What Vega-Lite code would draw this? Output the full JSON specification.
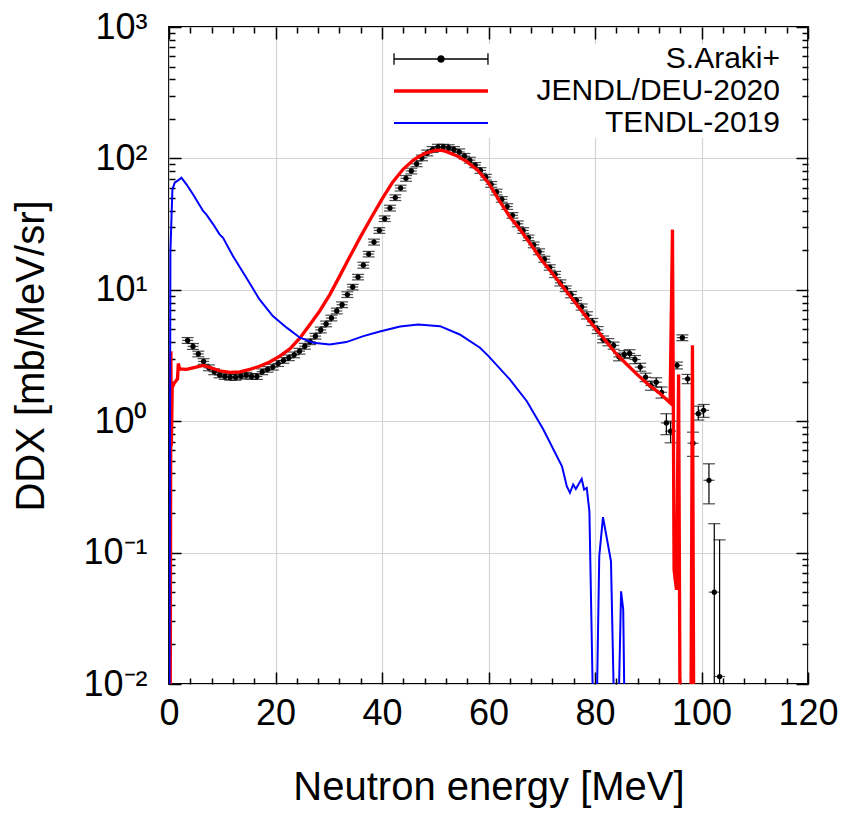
{
  "$schema": "https://vega.github.io/schema/vega-lite/v6.json",
  "width": 639,
  "height": 657,
  "autosize": {"type": "none"},
  "padding": {"left": 169, "top": 27, "right": 41, "bottom": 129},
  "background": "white",
  "config": {
    "view": {"stroke": "black", "strokeWidth": 2},
    "font": "Liberation Sans",
    "axis": {
      "labelFont": "Liberation Sans",
      "titleFont": "Liberation Sans",
      "labelFontSize": 36,
      "titleFontSize": 40,
      "titleFontWeight": "normal",
      "labelColor": "black",
      "titleColor": "black",
      "tickColor": "black",
      "tickWidth": 1.5,
      "domain": false,
      "gridColor": "#d4d4d4",
      "gridWidth": 1.2,
      "gridOpacity": 1,
      "labelFlush": false,
      "labelOverlap": false
    },
    "legend": {
      "orient": "none", "legendX": 257, "legendY": 17, "padding": 0,
      "fillColor": "white",
      "labelFont": "Liberation Sans", "labelFontSize": 30, "labelColor": "black",
      "labelAlign": "right", "labelOffset": 324, "labelLimit": 500,
      "symbolSize": 353, "rowPadding": 2, "symbolOpacity": 1
    }
  },
  "datasets": {
    "exp": [
      {"E": 3.5, "ddx": 4.12, "lo": 3.91, "hi": 4.33},
      {"E": 4.5, "ddx": 3.71, "lo": 3.52, "hi": 3.9},
      {"E": 5.5, "ddx": 3.25, "lo": 3.09, "hi": 3.41},
      {"E": 6.5, "ddx": 2.85, "lo": 2.71, "hi": 2.99},
      {"E": 7.5, "ddx": 2.55, "lo": 2.42, "hi": 2.68},
      {"E": 8.5, "ddx": 2.38, "lo": 2.26, "hi": 2.5},
      {"E": 9.5, "ddx": 2.25, "lo": 2.14, "hi": 2.36},
      {"E": 10.5, "ddx": 2.19, "lo": 2.08, "hi": 2.3},
      {"E": 11.5, "ddx": 2.16, "lo": 2.05, "hi": 2.27},
      {"E": 12.5, "ddx": 2.16, "lo": 2.05, "hi": 2.27},
      {"E": 13.5, "ddx": 2.2, "lo": 2.09, "hi": 2.31},
      {"E": 14.5, "ddx": 2.24, "lo": 2.13, "hi": 2.35},
      {"E": 15.5, "ddx": 2.19, "lo": 2.08, "hi": 2.3},
      {"E": 16.5, "ddx": 2.19, "lo": 2.08, "hi": 2.3},
      {"E": 17.5, "ddx": 2.38, "lo": 2.26, "hi": 2.5},
      {"E": 18.5, "ddx": 2.48, "lo": 2.36, "hi": 2.6},
      {"E": 19.5, "ddx": 2.58, "lo": 2.45, "hi": 2.71},
      {"E": 20.5, "ddx": 2.75, "lo": 2.61, "hi": 2.89},
      {"E": 21.5, "ddx": 2.9, "lo": 2.76, "hi": 3.05},
      {"E": 22.5, "ddx": 3.04, "lo": 2.89, "hi": 3.19},
      {"E": 23.5, "ddx": 3.2, "lo": 3.04, "hi": 3.36},
      {"E": 24.5, "ddx": 3.41, "lo": 3.24, "hi": 3.58},
      {"E": 25.5, "ddx": 3.72, "lo": 3.53, "hi": 3.91},
      {"E": 26.5, "ddx": 4.03, "lo": 3.83, "hi": 4.23},
      {"E": 27.5, "ddx": 4.44, "lo": 4.22, "hi": 4.66},
      {"E": 28.5, "ddx": 4.95, "lo": 4.7, "hi": 5.2},
      {"E": 29.5, "ddx": 5.5, "lo": 5.23, "hi": 5.78},
      {"E": 30.5, "ddx": 6.1, "lo": 5.8, "hi": 6.41},
      {"E": 31.5, "ddx": 6.9, "lo": 6.56, "hi": 7.25},
      {"E": 32.5, "ddx": 7.7, "lo": 7.32, "hi": 8.09},
      {"E": 33.5, "ddx": 9.2, "lo": 8.74, "hi": 9.66},
      {"E": 34.5, "ddx": 10.5, "lo": 9.98, "hi": 11.0},
      {"E": 35.5, "ddx": 12.5, "lo": 11.9, "hi": 13.1},
      {"E": 36.5, "ddx": 15.4, "lo": 14.6, "hi": 16.2},
      {"E": 37.5, "ddx": 18.7, "lo": 17.8, "hi": 19.6},
      {"E": 38.5, "ddx": 23.1, "lo": 21.9, "hi": 24.3},
      {"E": 39.5, "ddx": 28.3, "lo": 26.9, "hi": 29.7},
      {"E": 40.5, "ddx": 34.8, "lo": 33.1, "hi": 36.5},
      {"E": 41.5, "ddx": 41.9, "lo": 39.8, "hi": 44.0},
      {"E": 42.5, "ddx": 50.3, "lo": 47.8, "hi": 52.8},
      {"E": 43.5, "ddx": 59.5, "lo": 56.5, "hi": 62.5},
      {"E": 44.5, "ddx": 70.5, "lo": 67.0, "hi": 74.0},
      {"E": 45.5, "ddx": 80.2, "lo": 76.2, "hi": 84.2},
      {"E": 46.5, "ddx": 91, "lo": 86.5, "hi": 95.5},
      {"E": 47.5, "ddx": 101, "lo": 96, "hi": 106},
      {"E": 48.5, "ddx": 110, "lo": 104.5, "hi": 115.5},
      {"E": 49.5, "ddx": 117, "lo": 111, "hi": 123},
      {"E": 50.5, "ddx": 122, "lo": 116, "hi": 128},
      {"E": 51.5, "ddx": 122, "lo": 116, "hi": 128},
      {"E": 52.5, "ddx": 121, "lo": 115, "hi": 127},
      {"E": 53.5, "ddx": 117, "lo": 111, "hi": 123},
      {"E": 54.5, "ddx": 112, "lo": 106, "hi": 118},
      {"E": 55.5, "ddx": 104, "lo": 99, "hi": 109},
      {"E": 56.5, "ddx": 97, "lo": 92, "hi": 102},
      {"E": 57.5, "ddx": 89, "lo": 85, "hi": 93},
      {"E": 58.5, "ddx": 81, "lo": 77, "hi": 85},
      {"E": 59.5, "ddx": 72, "lo": 68.4, "hi": 75.6},
      {"E": 60.5, "ddx": 63.5, "lo": 60.3, "hi": 66.7},
      {"E": 61.5, "ddx": 55.5, "lo": 52.7, "hi": 58.3},
      {"E": 62.5, "ddx": 48.8, "lo": 46.4, "hi": 51.2},
      {"E": 63.5, "ddx": 43, "lo": 40.9, "hi": 45.2},
      {"E": 64.5, "ddx": 36.9, "lo": 35.1, "hi": 38.7},
      {"E": 65.5, "ddx": 31.8, "lo": 30.2, "hi": 33.4},
      {"E": 66.5, "ddx": 28.3, "lo": 26.9, "hi": 29.7},
      {"E": 67.5, "ddx": 24.9, "lo": 23.7, "hi": 26.1},
      {"E": 68.5, "ddx": 22, "lo": 20.9, "hi": 23.1},
      {"E": 69.5, "ddx": 19.5, "lo": 18.5, "hi": 20.5},
      {"E": 70.5, "ddx": 17.1, "lo": 16.2, "hi": 18.0},
      {"E": 71.5, "ddx": 14.8, "lo": 14.1, "hi": 15.5},
      {"E": 72.5, "ddx": 13.1, "lo": 12.4, "hi": 13.8},
      {"E": 73.5, "ddx": 11.3, "lo": 10.7, "hi": 11.9},
      {"E": 74.5, "ddx": 10.2, "lo": 9.7, "hi": 10.7},
      {"E": 75.5, "ddx": 9.2, "lo": 8.7, "hi": 9.7},
      {"E": 76.5, "ddx": 8.3, "lo": 7.9, "hi": 8.7},
      {"E": 77.5, "ddx": 7.4, "lo": 7.0, "hi": 7.8},
      {"E": 78.5, "ddx": 6.4, "lo": 6.0, "hi": 6.8},
      {"E": 79.5, "ddx": 5.7, "lo": 5.35, "hi": 6.05},
      {"E": 80.5, "ddx": 4.95, "lo": 4.65, "hi": 5.25},
      {"E": 81.5, "ddx": 4.2, "lo": 3.95, "hi": 4.45},
      {"E": 82.5, "ddx": 4.0, "lo": 3.75, "hi": 4.25},
      {"E": 83.5, "ddx": 3.77, "lo": 3.53, "hi": 4.0},
      {"E": 84.5, "ddx": 3.09, "lo": 2.88, "hi": 3.3},
      {"E": 85.5, "ddx": 3.22, "lo": 3.0, "hi": 3.44},
      {"E": 86.5, "ddx": 3.28, "lo": 3.05, "hi": 3.5},
      {"E": 87.5, "ddx": 2.95, "lo": 2.74, "hi": 3.16},
      {"E": 88.5, "ddx": 2.58, "lo": 2.4, "hi": 2.76},
      {"E": 89.5, "ddx": 2.16, "lo": 2.0, "hi": 2.32},
      {"E": 90.5, "ddx": 1.87, "lo": 1.72, "hi": 2.02},
      {"E": 91.5, "ddx": 1.98, "lo": 1.82, "hi": 2.14},
      {"E": 92.5, "ddx": 1.66, "lo": 1.5, "hi": 1.82},
      {"E": 93.4, "ddx": 0.97, "lo": 0.79, "hi": 1.14},
      {"E": 94.2, "ddx": 0.84, "lo": 0.685, "hi": 1.0},
      {"E": 95.4, "ddx": 2.66, "lo": 2.5, "hi": 2.82},
      {"E": 96.4, "ddx": 4.32, "lo": 4.1, "hi": 4.54},
      {"E": 97.4, "ddx": 2.1, "lo": 1.93, "hi": 2.27},
      {"E": 98.4, "ddx": 0.68, "lo": 0.54, "hi": 0.825},
      {"E": 99.4, "ddx": 1.14, "lo": 1.02, "hi": 1.3},
      {"E": 100.4, "ddx": 1.21, "lo": 1.07, "hi": 1.34},
      {"E": 101.4, "ddx": 0.355, "lo": 0.235, "hi": 0.474},
      {"E": 102.4, "ddx": 0.05, "lo": 0.001, "hi": 0.166},
      {"E": 103.4, "ddx": 0.0114, "lo": 0.001, "hi": 0.125}
    ],
    "jendl": [
      {"E": 0.2, "v": 0.001}, {"E": 0.35, "v": 3.4}, {"E": 0.45, "v": 0.65}, {"E": 0.6, "v": 1.8},
      {"E": 1.0, "v": 1.95}, {"E": 1.6, "v": 2.1}, {"E": 1.75, "v": 2.75}, {"E": 2.0, "v": 2.5},
      {"E": 3.3, "v": 2.48}, {"E": 4.5, "v": 2.55}, {"E": 6.4, "v": 2.66}, {"E": 7.6, "v": 2.57},
      {"E": 9.5, "v": 2.42}, {"E": 11.4, "v": 2.35}, {"E": 13.3, "v": 2.37}, {"E": 15.2, "v": 2.48},
      {"E": 17.0, "v": 2.62}, {"E": 18.9, "v": 2.82}, {"E": 20.8, "v": 3.13}, {"E": 22.7, "v": 3.55},
      {"E": 24.6, "v": 4.3}, {"E": 26.4, "v": 5.4}, {"E": 28.3, "v": 6.9}, {"E": 30.2, "v": 9.2},
      {"E": 32.0, "v": 12.6}, {"E": 34.0, "v": 18.0}, {"E": 36.0, "v": 25.5}, {"E": 38.0, "v": 35.5},
      {"E": 40.0, "v": 49}, {"E": 42.0, "v": 66}, {"E": 44.0, "v": 83}, {"E": 46.0, "v": 98},
      {"E": 48.0, "v": 109}, {"E": 50.0, "v": 115}, {"E": 51.0, "v": 115.5}, {"E": 52.0, "v": 113},
      {"E": 54.0, "v": 105}, {"E": 56.0, "v": 94}, {"E": 58.0, "v": 81}, {"E": 60.0, "v": 65},
      {"E": 62.0, "v": 48}, {"E": 64.0, "v": 36}, {"E": 66.0, "v": 28.5}, {"E": 68.0, "v": 22},
      {"E": 70.0, "v": 16.8}, {"E": 72.0, "v": 13.3}, {"E": 74.0, "v": 10.5}, {"E": 76.0, "v": 8.3},
      {"E": 78.0, "v": 6.5}, {"E": 80.0, "v": 5.15}, {"E": 82.0, "v": 4.1}, {"E": 84.0, "v": 3.25},
      {"E": 86.0, "v": 2.7}, {"E": 88.0, "v": 2.25}, {"E": 90.0, "v": 1.9}, {"E": 92.0, "v": 1.65},
      {"E": 94.1, "v": 1.38}, {"E": 94.55, "v": 28.7}, {"E": 94.85, "v": 0.074}, {"E": 95.3, "v": 0.052},
      {"E": 95.7, "v": 2.27}, {"E": 96.05, "v": 0.001}, {"E": 97.95, "v": 0.001}, {"E": 98.3, "v": 3.79},
      {"E": 98.6, "v": 0.001}
    ],
    "tendl": [
      {"E": 0.05, "v": 0.001}, {"E": 0.26, "v": 19.2}, {"E": 0.64, "v": 58}, {"E": 1.07, "v": 65.4},
      {"E": 1.7, "v": 68}, {"E": 2.33, "v": 71.4}, {"E": 3.27, "v": 63.5}, {"E": 4.5, "v": 53.3},
      {"E": 6.4, "v": 39.8}, {"E": 7.0, "v": 37.5}, {"E": 8.3, "v": 31.5}, {"E": 9.5, "v": 26.4},
      {"E": 10.15, "v": 24.9}, {"E": 12.0, "v": 18.1}, {"E": 14.5, "v": 12.4}, {"E": 17.0, "v": 8.45},
      {"E": 19.5, "v": 6.31}, {"E": 22.1, "v": 5.15}, {"E": 24.6, "v": 4.32}, {"E": 27.1, "v": 3.95},
      {"E": 30.2, "v": 3.84}, {"E": 33.3, "v": 4.0}, {"E": 36.5, "v": 4.44}, {"E": 39.6, "v": 4.82},
      {"E": 43.4, "v": 5.25}, {"E": 46.8, "v": 5.45}, {"E": 50.9, "v": 5.29}, {"E": 54.6, "v": 4.57},
      {"E": 58.4, "v": 3.62}, {"E": 60.0, "v": 3.13}, {"E": 64.0, "v": 2.08}, {"E": 67.2, "v": 1.42},
      {"E": 70.3, "v": 0.865}, {"E": 73.8, "v": 0.454}, {"E": 74.7, "v": 0.32}, {"E": 75.3, "v": 0.285},
      {"E": 75.9, "v": 0.33}, {"E": 76.4, "v": 0.305}, {"E": 77.5, "v": 0.364}, {"E": 77.95, "v": 0.302},
      {"E": 78.45, "v": 0.311}, {"E": 78.95, "v": 0.206}, {"E": 80.0, "v": 0.001}, {"E": 80.8, "v": 0.094},
      {"E": 81.5, "v": 0.186}, {"E": 83.0, "v": 0.086}, {"E": 84.0, "v": 0.001}, {"E": 84.9, "v": 0.0507},
      {"E": 85.3, "v": 0.0368}, {"E": 85.8, "v": 0.001}
    ]
  },
  "resolve": {"axis": {"x": "independent", "y": "independent"}},
  "layer": [
    {
      "data": {"name": "exp"},
      "mark": {"type": "rule", "clip": true, "color": "black", "strokeWidth": 1.2},
      "encoding": {
        "x": {"field": "E", "type": "quantitative", "scale": {"domain": [0, 120], "nice": false, "zero": false},
              "axis": {"orient": "bottom", "values": [4,8,12,16,24,28,32,36,44,48,52,56,64,68,72,76,84,88,92,96,104,108,112,116], "grid": false, "ticks": true, "tickSize": -6, "labels": false, "title": null}},
        "y": {"field": "lo", "type": "quantitative", "scale": {"type": "log", "domain": [0.01, 1000], "nice": false},
              "axis": {"orient": "left", "values": [0.02,0.03,0.04,0.05,0.06,0.07,0.08,0.09,0.2,0.3,0.4,0.5,0.6,0.7,0.8,0.9,2,3,4,5,6,7,8,9,20,30,40,50,60,70,80,90,200,300,400,500,600,700,800,900], "grid": false, "ticks": true, "tickSize": -6, "labels": false, "title": null}},
        "y2": {"field": "hi"}
      }
    },
    {
      "data": {"name": "exp"},
      "transform": [{"fold": ["lo", "hi"], "as": ["k", "cv"]}],
      "mark": {"type": "tick", "orient": "horizontal", "clip": true, "color": "black", "size": 12, "thickness": 1.2},
      "encoding": {
        "x": {"field": "E", "type": "quantitative",
              "axis": {"orient": "top", "values": [4,8,12,16,24,28,32,36,44,48,52,56,64,68,72,76,84,88,92,96,104,108,112,116], "grid": false, "ticks": true, "tickSize": -6, "labels": false, "title": null}},
        "y": {"field": "cv", "type": "quantitative",
              "axis": {"orient": "right", "values": [0.02,0.03,0.04,0.05,0.06,0.07,0.08,0.09,0.2,0.3,0.4,0.5,0.6,0.7,0.8,0.9,2,3,4,5,6,7,8,9,20,30,40,50,60,70,80,90,200,300,400,500,600,700,800,900], "grid": false, "ticks": true, "tickSize": -6, "labels": false, "title": null}}
      }
    },
    {
      "data": {"name": "exp"},
      "mark": {"type": "tick", "orient": "horizontal", "clip": true, "color": "black", "size": 11, "thickness": 1.2},
      "encoding": {
        "x": {"field": "E", "type": "quantitative",
              "axis": {"orient": "top", "values": [0,20,40,60,80,100,120], "grid": false, "ticks": true, "tickSize": -12, "labels": false, "title": null}},
        "y": {"field": "ddx", "type": "quantitative",
              "axis": {"orient": "right", "values": [0.01,0.1,1,10,100,1000], "grid": false, "ticks": true, "tickSize": -12, "labels": false, "title": null}}
      }
    },
    {
      "data": {"name": "exp"},
      "mark": {"type": "point", "filled": true, "shape": "circle", "size": 28, "opacity": 1, "clip": true},
      "encoding": {
        "x": {"field": "E", "type": "quantitative", "axis": null},
        "y": {"field": "ddx", "type": "quantitative", "axis": null},
        "color": {"datum": "S.Araki+", "type": "nominal",
                  "scale": {"domain": ["S.Araki+", "JENDL/DEU-2020", "TENDL-2019"], "range": ["black", "#ff0000", "#0000ff"]},
                  "legend": {"title": null}}
      }
    },
    {
      "data": {"name": "exp"},
      "mark": {"type": "point", "filled": true, "opacity": 0, "size": 1, "clip": true},
      "encoding": {
        "x": {"field": "E", "type": "quantitative", "axis": null},
        "y": {"field": "ddx", "type": "quantitative", "axis": null},
        "color": {"datum": "S.Araki+", "type": "nominal", "legend": {"title": null}},
        "shape": {"datum": "S.Araki+", "type": "nominal",
                  "scale": {"domain": ["S.Araki+", "JENDL/DEU-2020", "TENDL-2019"],
                            "range": ["M-5,0H5M-5,-0.6V0.6M5,-0.6V0.6M0.33,0A0.33,0.33,0,1,1,-0.33,0A0.33,0.33,0,1,1,0.33,0Z", "M-5,0H5", "M-5,0H5"]},
                  "legend": {"title": null}},
        "strokeWidth": {"datum": "S.Araki+", "type": "nominal",
                        "scale": {"type": "ordinal", "domain": ["S.Araki+", "JENDL/DEU-2020", "TENDL-2019"], "range": [1.3, 3.3, 2]},
                        "legend": {"title": null}}
      }
    },
    {
      "data": {"name": "jendl"},
      "mark": {"type": "line", "clip": true, "strokeWidth": 3.3},
      "encoding": {
        "x": {"field": "E", "type": "quantitative",
              "axis": {"orient": "bottom", "values": [0,20,40,60,80,100,120], "grid": true, "ticks": false, "labels": true, "title": "Neutron energy [MeV]", "labelPadding": 12, "titlePadding": 36}},
        "y": {"field": "v", "type": "quantitative",
              "axis": {"orient": "left", "values": [0.01,0.1,1,10,100,1000], "grid": true, "ticks": false, "labels": true, "labelPadding": 22, "titlePadding": 31, "title": "DDX [mb/MeV/sr]",
                       "labelExpr": "datum.value > 500 ? '10³' : datum.value > 50 ? '10²' : datum.value > 5 ? '10¹' : datum.value > 0.5 ? '10⁰' : datum.value > 0.05 ? '10⁻¹' : '10⁻²'"}},
        "color": {"datum": "JENDL/DEU-2020", "type": "nominal", "legend": {"title": null}}
      }
    },
    {
      "data": {"name": "tendl"},
      "mark": {"type": "line", "clip": true, "strokeWidth": 2},
      "encoding": {
        "x": {"field": "E", "type": "quantitative",
              "axis": {"orient": "bottom", "values": [0,20,40,60,80,100,120], "grid": false, "ticks": true, "tickSize": -12, "labels": false, "title": null}},
        "y": {"field": "v", "type": "quantitative",
              "axis": {"orient": "left", "values": [0.01,0.1,1,10,100,1000], "grid": false, "ticks": true, "tickSize": -12, "labels": false, "title": null}},
        "color": {"datum": "TENDL-2019", "type": "nominal", "legend": {"title": null}}
      }
    }
  ]
}
